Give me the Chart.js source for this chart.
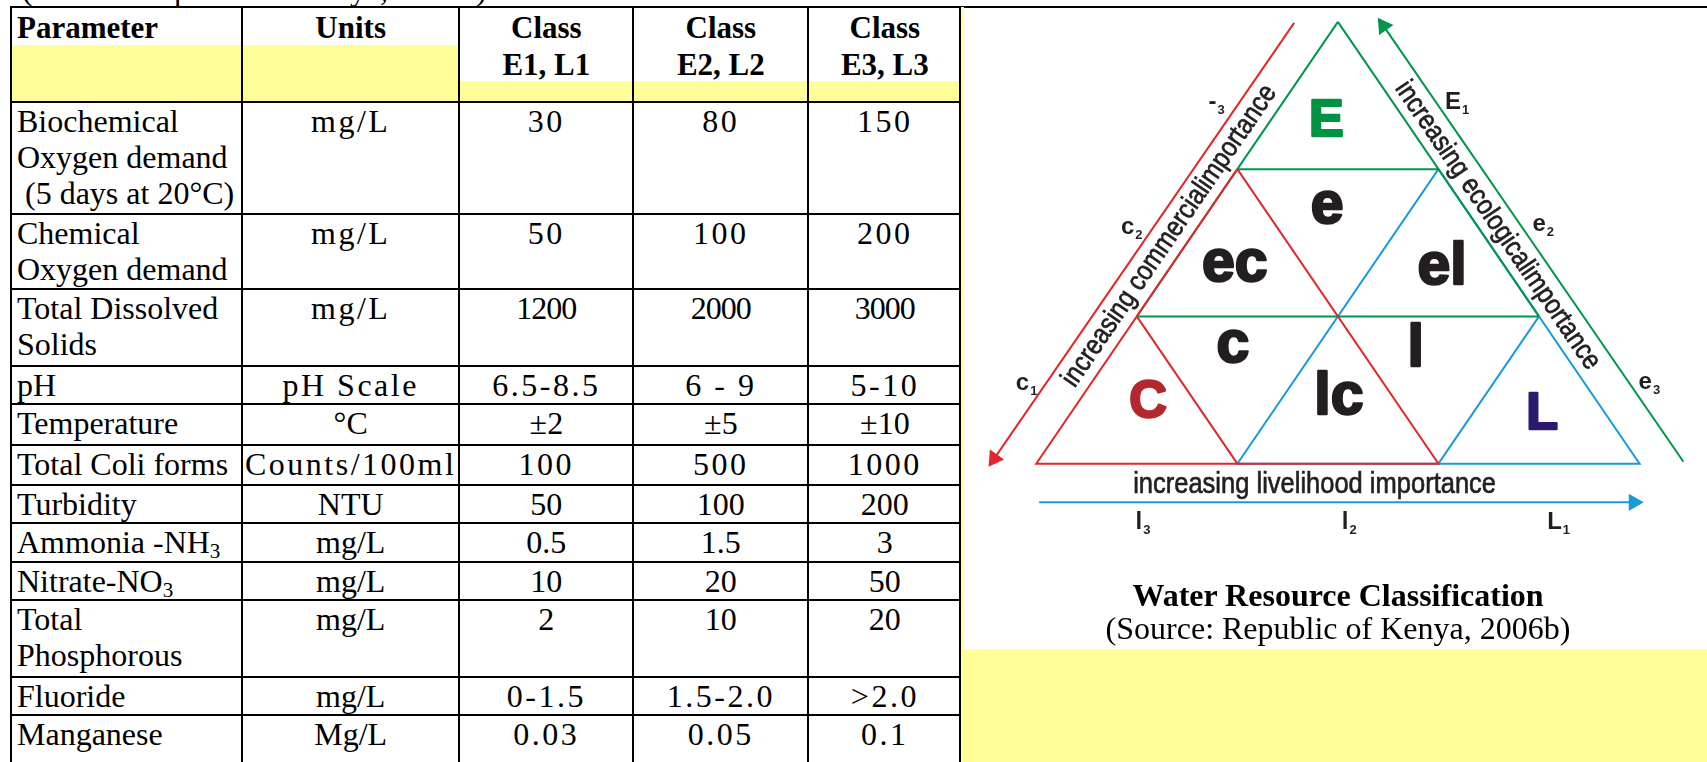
<!DOCTYPE html>
<html>
<head>
<meta charset="utf-8">
<script src="https://cdn.jsdelivr.net/npm/chart.js@4.4.1/dist/chart.umd.min.js"></script>
<style>
html, body { margin: 0; padding: 0; background: #fff; }
body { width: 1707px; height: 762px; position: relative; overflow: hidden; font-family: "Liberation Serif", "Times New Roman", serif; color: #000; }
#cut { position: absolute; left: 22px; top: 0; height: 6px; width: 520px; overflow: hidden; }
#cut div { font-size: 32px; line-height: 32px; margin-top: -27px; white-space: nowrap; }
#topline { position: absolute; left: 10px; top: 6px; width: 1697px; height: 2px; background: #000; }
#strip { position: absolute; left: 961px; top: 7px; width: 3px; height: 755px; background: #ffff99; }
#divider { position: absolute; left: 959px; top: 7px; width: 2px; height: 755px; background: #000; }
#note { position: absolute; left: 962px; top: 649px; width: 745px; height: 113px; background: #ffff99; }
#grid { position: absolute; left: 10px; top: 6px; border-collapse: collapse; table-layout: fixed; }
#grid td { border: 2px solid #000; padding: 0 2px 0 5px; vertical-align: top; font-size: 32px; line-height: 36px; overflow: hidden; box-sizing: border-box; }
#grid td.c { text-align: center; padding: 0 2px; white-space: nowrap; }
#grid td.h { font-weight: bold; font-size: 31px; line-height: 37px; white-space: pre-line; padding-top: 1px; }
#grid td.sp { letter-spacing: 2.5px; }
#grid td.tight { letter-spacing: -1px; }
#grid sub { font-size: 21px; line-height: 0; vertical-align: -5px; }
#tri { position: absolute; left: 962px; top: 9px; }
.cap { position: absolute; left: 1038px; width: 600px; text-align: center; white-space: nowrap; }
</style>
</head>
<body>
<div id="cut"><div>(Source: Republic of Kenya, 2006b)</div></div>
<table id="grid"></table>
<div id="topline"></div>
<div id="strip"></div>
<div id="divider"></div>
<div id="note"></div>
<canvas id="tri" width="745" height="639"></canvas>
<div class="cap" style="top:577px;font-weight:bold;font-size:32px;line-height:36px">Water Resource Classification</div>
<div class="cap" style="top:610px;font-size:32px;line-height:36px">(Source: Republic of Kenya, 2006b)</div>

<script>
// Table content
const headers = ['Parameter', 'Units', 'Class\nE1, L1', 'Class\nE2, L2', 'Class\nE3, L3'];
const parameters = ['Biochemical Oxygen demand \u00a0(5 days at 20\u00b0C)', 'Chemical Oxygen demand', 'Total Dissolved Solids',
  'pH', 'Temperature', 'Total Coli forms', 'Turbidity', 'Ammonia -NH<sub>3</sub>', 'Nitrate-NO<sub>3</sub>',
  'Total Phosphorous', 'Fluoride', 'Manganese'];
const units = ['mg/L', 'mg/L', 'mg/L', 'pH Scale', '\u00b0C', 'Counts/100ml', 'NTU', 'mg/L', 'mg/L', 'mg/L', 'mg/L', 'Mg/L'];
const classE1 = ['30', '50', '1200', '6.5-8.5', '\u00b12', '100', '50', '0.5', '10', '2', '0-1.5', '0.03'];
const classE2 = ['80', '100', '2000', '6 - 9', '\u00b15', '500', '100', '1.5', '20', '10', '1.5-2.0', '0.05'];
const classE3 = ['150', '200', '3000', '5-10', '\u00b110', '1000', '200', '3', '50', '20', '>2.0', '0.1'];

// Diagram content: triangle corners in (half-base, row) units
const greenLines = [[[3, 3], [1, 1]], [[3, 3], [5, 1]], [[2, 2], [4, 2]], [[1, 1], [5, 1]]];
const redLines = [[[2, 2], [0, 0], [4, 0], [2, 2]], [[1, 1], [2, 0]]];
const blueLines = [[[4, 2], [2, 0], [6, 0], [4, 2]], [[5, 1], [4, 0]]];
const commercialArrow = [[2.565, 2.993], [-0.418, 0.034]];
const ecologicalArrow = [[6.436, 0.013], [3.453, 2.973]];
const livelihoodArrow = [[0.029, -0.263], [5.942, -0.263]];
const regionNames = ['E', 'e', 'ec', 'el', 'c', 'l', 'C', 'lc', 'L'];
const axisTitles = ['increasing commercialimportance', 'increasing ecologicalimportance', 'increasing livelihood importance'];
const tickNames = [['c', '1'], ['c', '2'], ['-', '3'], ['E', '1'], ['e', '2'], ['e', '3'], ['l', '3'], ['l', '2'], ['L', '1']];

// Layout (not data)
const colWidths = [231, 217, 174, 175, 153];
const rowHeights = [95, 112, 75, 77, 38, 41, 40, 38, 39, 38, 77, 38, 60];
const spacedUnits = [0, 1, 2, 3, 5];
const spacedValues = [0, 1, 3, 5, 10, 11];
const regionAt = [[2.884, 2.224], [2.894, 1.632], [1.974, 1.237], [4.036, 1.217], [1.955, 0.691],
  [3.774, 0.664], [1.113, 0.316], [3.010, 0.336], [5.032, 0.237]];
const regionColor = ['#009245', '#231f20', '#231f20', '#231f20', '#231f20', '#231f20', '#b3272d', '#231f20', '#2b1a6e'];
const tickAt = [[-0.203, 0.5], [0.842, 1.559], [1.713, 2.408], [4.065, 2.408], [4.935, 1.579], [5.990, 0.507],
  [0.987, -0.441], [3.039, -0.441], [5.081, -0.441]];
const RED = '#e4262b', GREEN = '#00964b', BLUE = '#1a9bd7', INK = '#231f20';

// Build the table
function buildTable() {
    const t = document.getElementById('grid');
    let html = '<colgroup>' + colWidths.map(w => `<col style="width:${w}px">`).join('') + '</colgroup>';
    html += `<tr style="height:${rowHeights[0]}px">`;
    headers.forEach((h, i) => {
        const stop = i < 2 ? 37 : 73;
        const cls = i === 0 ? 'h' : 'h c';
        html += `<td class="${cls}" style="background:linear-gradient(#fff 0 ${stop}px,#ffff99 ${stop}px)">${h}</td>`;
    });
    html += '</tr>';
    parameters.forEach((p, r) => {
        const us = spacedUnits.includes(r) ? ' sp' : '';
        const vs = spacedValues.includes(r) ? ' sp' : (r === 2 ? ' tight' : '');
        html += `<tr style="height:${rowHeights[r + 1]}px">`;
        html += `<td>${p}</td>`;
        html += `<td class="c${us}">${units[r]}</td>`;
        [classE1, classE2, classE3].forEach(col => {
            html += `<td class="c${vs}">${col[r].replace('>', '&gt;')}</td>`;
        });
        html += '</tr>';
    });
    t.innerHTML = html;
}
buildTable();

// Pixel frame of the diagram canvas
const baseLeftPx = 1028 - 962, baseRightPx = 1648 - 962, baseYPx = 468 - 9, apexYPx = 12 - 9;
const ux = (baseRightPx - baseLeftPx) / 6, uy = (baseYPx - apexYPx) / 3;

function toPts(list) { return list.map(([x, y]) => ({ x, y })); }

function lineSet(list, color) {
    return list.map(seg => ({
        data: toPts(seg), showLine: true, borderColor: color, borderWidth: 2,
        pointRadius: 0, fill: false, tension: 0, clip: false
    }));
}

function headAngle(c, seg) {
    const xs = c.chart.scales.x, ys = c.chart.scales.y;
    const dx = xs.getPixelForValue(seg[1][0]) - xs.getPixelForValue(seg[0][0]);
    const dy = ys.getPixelForValue(seg[1][1]) - ys.getPixelForValue(seg[0][1]);
    return Math.atan2(dx, -dy) * 180 / Math.PI;
}

function arrowSet(seg, color) {
    return {
        data: toPts(seg), showLine: true, borderColor: color, borderWidth: 2, clip: false,
        pointRadius: [0, 10], pointStyle: 'triangle', pointBackgroundColor: color, pointBorderWidth: 0,
        pointRotation: c => headAngle(c, seg)
    };
}

function sideAngle(chart, a, b) {
    const xs = chart.scales.x, ys = chart.scales.y;
    return Math.atan2(ys.getPixelForValue(b[1]) - ys.getPixelForValue(a[1]),
                      xs.getPixelForValue(b[0]) - xs.getPixelForValue(a[0]));
}

function put(ctx, text, x, y, font, color, o) {
    ctx.save();
    ctx.translate(x, y);
    if (o.angle) ctx.rotate(o.angle);
    ctx.scale(o.sx || 1, 1);
    ctx.font = font;
    ctx.fillStyle = color;
    ctx.textAlign = o.align || 'center';
    ctx.textBaseline = o.base || 'alphabetic';
    ctx.fillText(text, 0, 0);
    if (o.stroke) { ctx.strokeStyle = color; ctx.lineWidth = o.stroke; ctx.lineJoin = 'round'; ctx.strokeText(text, 0, 0); }
    ctx.restore();
}

const labelPlugin = {
    id: 'labels',
    afterDatasetsDraw(chart) {
        const ctx = chart.ctx, xs = chart.scales.x, ys = chart.scales.y;
        const px = v => xs.getPixelForValue(v), py = v => ys.getPixelForValue(v);
        const sans = '"Liberation Sans", Arial';

        regionNames.forEach((t, i) => {
            const big = t === t.toUpperCase();
            const font = big ? 'bold 52px ' + sans : 'bold 59px ' + sans;
            put(ctx, t, px(regionAt[i][0]), py(regionAt[i][1]), font, regionColor[i], { stroke: 2.5 });
        });

        put(ctx, axisTitles[0], px(1.326), py(1.546), '28px ' + sans, INK,
            { angle: sideAngle(chart, [0, 0], [3, 3]), sx: 0.86, base: 'middle', stroke: 0.7 });
        put(ctx, axisTitles[1], px(4.587), py(1.618), '28px ' + sans, INK,
            { angle: sideAngle(chart, [3, 3], [6, 0]), sx: 0.86, base: 'middle', stroke: 0.7 });
        put(ctx, axisTitles[2], px(2.768), py(-0.197), '30px ' + sans, INK, { sx: 0.85, stroke: 0.7 });

        tickNames.forEach(([m, s], i) => {
            const x = px(tickAt[i][0]), y = py(tickAt[i][1]);
            ctx.save();
            ctx.font = 'bold 24px ' + sans;
            const w = ctx.measureText(m).width;
            ctx.restore();
            put(ctx, m, x, y, 'bold 24px ' + sans, INK, { align: 'left' });
            put(ctx, s, x + w + 1, y + 5, 'bold 13px ' + sans, INK, { align: 'left' });
        });
    }
};

new Chart(document.getElementById('tri'), {
    type: 'scatter',
    data: {
        datasets: [
            ...lineSet(redLines, RED),
            ...lineSet(greenLines, GREEN),
            ...lineSet(blueLines, BLUE),
            arrowSet(commercialArrow, RED),
            arrowSet(ecologicalArrow, GREEN),
            arrowSet(livelihoodArrow, BLUE)
        ]
    },
    options: {
        responsive: false,
        animation: false,
        events: [],
        layout: { padding: 0 },
        plugins: { legend: { display: false }, tooltip: { enabled: false } },
        scales: {
            x: { type: 'linear', display: false, min: -baseLeftPx / ux, max: (745 - baseLeftPx) / ux },
            y: { type: 'linear', display: false, min: (baseYPx - 639) / uy, max: baseYPx / uy }
        }
    },
    plugins: [labelPlugin]
});
</script>
</body>
</html>
